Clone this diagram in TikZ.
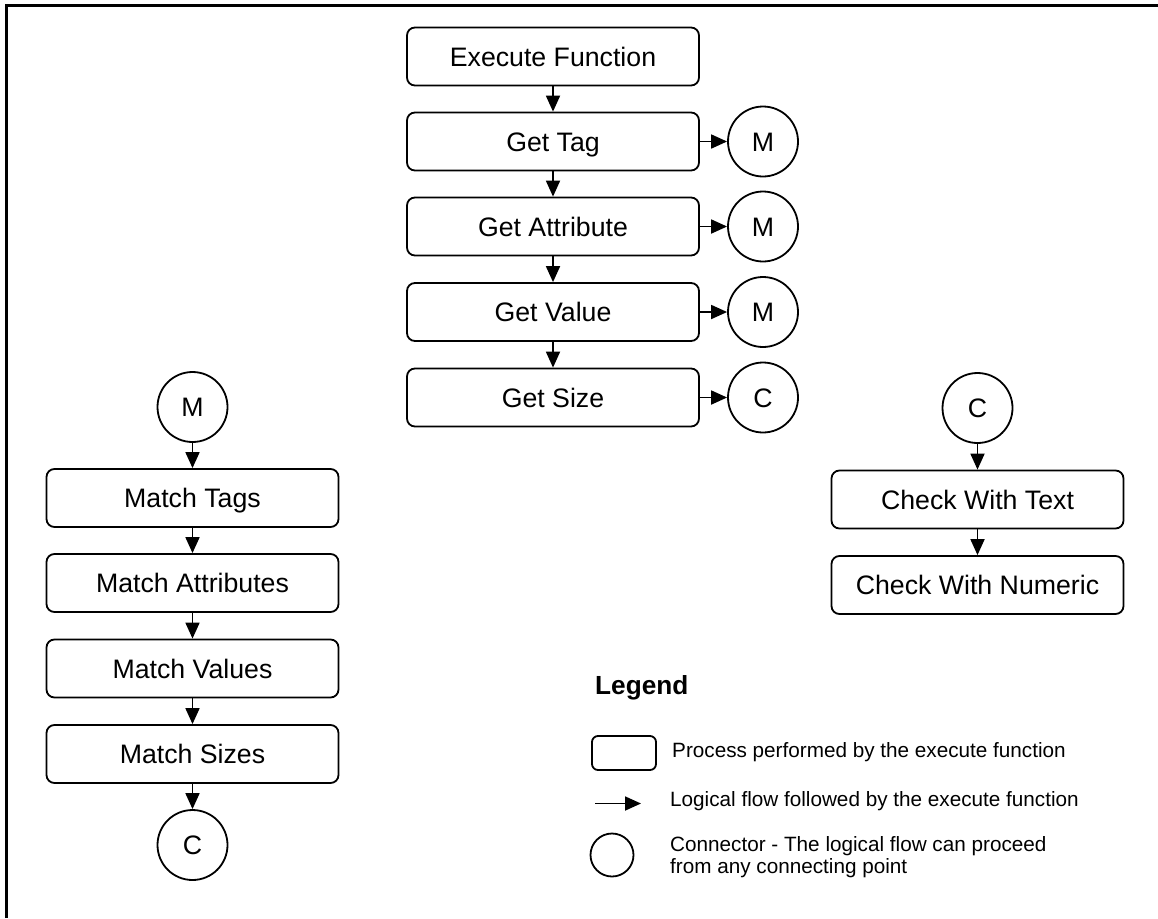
\documentclass[tikz,border=0pt]{standalone}
\usepackage{fontspec}
\setmainfont{Liberation Sans}
\usetikzlibrary{arrows.meta}
\begin{document}
\begin{tikzpicture}[x=1pt,y=-1pt,
  procbox/.style={draw,line width=1.8pt,rounded corners=8pt,minimum width=292pt,minimum height=58pt,inner sep=0pt,text height=19.1pt,text depth=0pt,font=\fontsize{26.7}{30}\selectfont},
  conn/.style={draw,circle,line width=1.8pt,minimum size=70pt,inner sep=0pt,text height=19.1pt,text depth=0pt,font=\fontsize{26.7}{30}\selectfont},
  flow/.style={line width=1.8pt,-{Triangle[length=16pt,width=14pt]}},
  legtext/.style={anchor=west,inner sep=0pt,align=left,font=\fontsize{20.7}{22.5}\selectfont}
]
\useasboundingbox (0,0) rectangle (1158,918);
\coordinate (fb) at (6.5,918);
\coordinate (fc) at (6.5,5.5);
\coordinate (fr) at (1158,5.5);
\draw[line width=2.5pt] (fb) -- (fc) -- (fr);

% centre column
\node[procbox] (exe) at (553,56.5) {Execute Function};
\node[procbox] (tag) at (553,141.5) {Get Tag};
\node[procbox] (att) at (553,226.5) {Get Attribute};
\node[procbox] (val) at (553,312) {Get Value};
\node[procbox] (siz) at (553,397.5) {Get Size};
\node[conn] (m1) at (763,141.5) {M};
\node[conn] (m2) at (763,226.5) {M};
\node[conn] (m3) at (763,312) {M};
\node[conn] (c1) at (763,397.5) {C};
\draw[flow] (exe) -- (tag);
\draw[flow] (tag) -- (att);
\draw[flow] (att) -- (val);
\draw[flow] (val) -- (siz);
\draw[flow] (tag) -- (m1);
\draw[flow] (att) -- (m2);
\draw[flow] (val) -- (m3);
\draw[flow] (siz) -- (c1);

% left column
\node[conn] (lm) at (192.5,407) {M};
\node[procbox] (mt) at (192.5,498) {Match Tags};
\node[procbox] (ma) at (192.5,583) {Match Attributes};
\node[procbox] (mv) at (192.5,668.5) {Match Values};
\node[procbox] (ms) at (192.5,754) {Match Sizes};
\node[conn] (lc) at (192.5,845) {C};
\draw[flow] (lm) -- (mt);
\draw[flow] (mt) -- (ma);
\draw[flow] (ma) -- (mv);
\draw[flow] (mv) -- (ms);
\draw[flow] (ms) -- (lc);

% right column
\node[conn] (rc) at (977.5,408) {C};
\node[procbox] (ct) at (977.5,499.5) {Check With Text};
\node[procbox] (cn) at (977.5,585) {Check With Numeric};
\draw[flow] (rc) -- (ct);
\draw[flow] (ct) -- (cn);

% legend
\node[anchor=west,inner sep=0pt,font=\fontsize{26.2}{30}\selectfont\bfseries] (legend) at (595,688) {Legend};
\node[draw,line width=1.8pt,rounded corners=6pt,minimum width=64pt,minimum height=34pt,inner sep=0pt] (lbox) at (624,753) {};
\node[legtext] (lt1) at (672,752) {Process performed by the execute function};
\coordinate (la1) at (595,803.5);
\coordinate (la2) at (641,803.5);
\draw[flow] (la1) -- (la2);
\node[legtext] (lt2) at (670,801) {Logical flow followed by the execute function};
\node[draw,circle,line width=1.8pt,minimum size=43pt,inner sep=0pt] (lcirc) at (612,855) {};
\node[legtext] (lt3) at (670,857) {Connector - The logical flow can proceed\\from any connecting point};
\end{tikzpicture}
\end{document}
